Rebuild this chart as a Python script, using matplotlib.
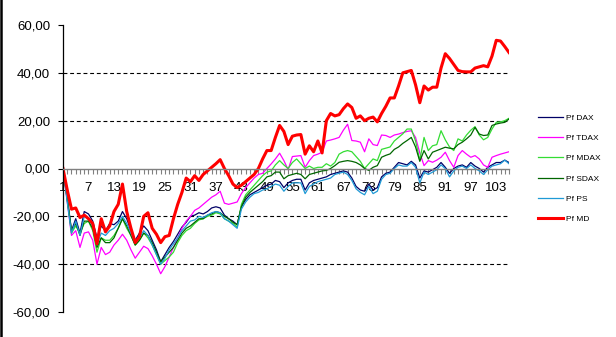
import matplotlib
matplotlib.use("Agg")
import matplotlib.pyplot as plt
from matplotlib.lines import Line2D
from matplotlib.ticker import FixedLocator, FuncFormatter, MultipleLocator

plt.rcParams['font.family'] = ['Liberation Sans', 'DejaVu Sans']

# category index 1..106
periods = list(range(1, 107))

pf_dax = [0, -12, -26, -21, -27, -18, -19, -22, -29, -24,
          -26, -23, -23.5, -22, -18, -21, -26, -30, -27, -24,
          -26, -30, -34, -39, -36, -33, -30.5, -27.5, -24.5, -22.5,
          -20, -19.5, -18.5, -19, -18, -16.5, -16, -16.5, -19.5, -21,
          -22, -23.5, -16, -13, -11, -10, -9, -8, -7, -6.5,
          -5, -5.5, -8, -6, -5, -4.5, -4.5, -9, -6, -5,
          -4.5, -4, -3.5, -2.5, -2, -1.5, -1, -1.5, -4, -7.5,
          -9, -9.5, -6.5, -9, -8, -3.5, -2, -1.5, 0.5, 2.5,
          2, 1.5, 3, 1.5, -4, -1, -1.5, -0.5, 0.5, 2.5,
          0.5, -2, 0, 1, 1.5, 0.5, 2.5, 1, 0, -1.5,
          0.5, 1.5, 2.5, 2.5, 3.5, 2.5]

pf_tdax = [0, -14, -28, -26, -33, -27, -26.5, -30, -40, -33,
           -36, -35, -32, -30, -27.5, -30, -34, -37.5, -35, -32.5,
           -33.5, -36.5, -40, -44, -41, -37, -33, -29, -25, -22,
           -20, -17.5, -16.5, -15, -13.5, -12, -11, -9.5, -14.5, -15,
           -14.5, -14, -10.5, -8, -6, -4, -2.5, -2, 0, 1.9,
           4, 6.4, 3.3, -0.5, 5, 5.2, 5.4, 0.5, 3.3, 5.4,
           6, 6.8, 11.5, 11.9, 12.4, 13, 16, 18.5, 11.7, 11.5,
           11, 7, 12.4, 10, 9.6, 14, 13.8, 13, 14, 14.4,
           15, 15.5, 15.8, 13, 6.5, 1.2, 3.3, 2.6, 3.5, 4.7,
           6.8, 3.3, 0.5, 5.4, 7.5, 6, 4.7, 5.4, 4, 1.5,
           0.5, 4.7, 5.4, 6, 6.5, 7]

pf_mdax = [0, -13, -27, -24, -27, -23, -22, -26, -35, -29,
           -30, -30, -28, -25, -21, -25, -28, -32, -30, -27,
           -29, -32, -36, -40, -38.5, -37, -35, -31, -28, -26,
           -25, -23, -21.5, -21, -20, -19.5, -18.5, -19, -21, -22,
           -23, -24.5, -15, -11, -9, -7, -5, -3, -1.5, -1,
           1.5, 3.3, 1.5, 0, 2.5, 4, 2, 0, 1, 0,
           0.5, 0.5, 2, 1, 2.5, 6, 7, 7.5, 7, 5,
           3, 0, 2, 4, 3.3, 8, 8.5, 9, 11.5, 13,
           14.5, 16.5, 16.5, 11.5, 3.5, 13, 7.5, 9.5, 10, 15.8,
           12, 9, 7.5, 12.4, 11.5, 14, 16, 17.5, 14, 12,
           13, 16.5, 19.3, 19.5, 20, 21]

pf_sdax = [0, -13, -26, -23, -28, -22, -22, -25, -33, -29,
           -31, -31, -29, -25, -21, -24, -28, -32, -30, -27,
           -28, -31, -35, -39, -37, -35, -33, -30, -27, -25,
           -24, -22.5, -21, -21, -19.5, -19, -18, -18.5, -20, -21,
           -22.5, -23.5, -16, -12, -10, -8.5, -7, -5.5, -3.5, -3,
           -1.5, -1.5, -4.3, -3, -2.5, -2, -2.5, -4.3, -2.5, -2,
           -1.5, -1, -0.8, 0, 1.2, 2.6, 3, 3.3, 3, 2.5,
           1.5, 0, -0.8, 0.5, 1.2, 4.7, 5.5, 6.1, 8, 9,
           10.5, 11.7, 13, 9, 3, 7.5, 4, 6.8, 7.5, 8.2,
           8.9, 8.5, 8.2, 10, 11, 12.4, 14, 17.2, 14.4, 13.8,
           14, 18, 18.6, 19, 19.3, 20.7]

pf_ps = [0, -14, -27, -22, -28, -20, -21, -24, -32, -27,
         -28, -26, -25, -23, -20, -23, -27, -31, -29, -26,
         -28, -32, -36, -40, -37.5, -34, -31.5, -29, -26, -24,
         -22, -21.5, -20, -20.5, -19.5, -18.5, -18, -18.5, -21, -22,
         -23.5, -25, -17, -14, -12, -10.5, -10, -9, -8.5, -7.5,
         -6.5, -7, -9.5, -7.5, -6, -6, -6, -10.5, -7.5, -6.5,
         -5.5, -5, -4.5, -4, -2.5, -2, -1.5, -2.5, -5, -8.5,
         -10, -11, -7.5, -10.5, -9.5, -4.5, -2.5, -2, 0, 1.5,
         1, 1, 2.5, 0.5, -6, -1.5, -2.5, -1.5, -0.5, 1.5,
         0, -3.5, -1, 0.5, 1, 0, 1.5, 0, -1, -2.5,
         -0.5, 1, 1.5, 2, 3.5, 2]

pf_md = [0, -9, -17, -16.5, -20.5, -19.5, -21, -23, -31.5, -21,
         -26.5, -24, -18, -15, -6.5, -18, -25, -31, -28.5, -20,
         -18.5, -25, -27.5, -31, -28.5, -28, -21, -15, -10, -4,
         -5.5, -3, -5, -2.5, -1, 0.5, 2, 3.7, 0, -3,
         -6.5, -8, -7, -5.5, -4, -2.5, 0, 4, 7.5, 7.5,
         13, 18, 15.5, 10, 13.5, 14, 14.2, 6, 9.5, 7,
         11.5, 6.5, 20, 23, 22, 22.5, 25, 27, 25.5, 21,
         22, 20, 21, 21.5, 19.5, 23, 26, 29.5, 29.5, 34.5,
         40, 40.5, 41, 35, 27.5, 34.5, 32.8, 34, 34, 42,
         48, 46, 43.5, 41, 40.5, 40.4, 40.4, 42, 42.5, 43,
         42.5, 47, 53.6, 53.3, 51, 48.5]

series = [
    ("Pf DAX", pf_dax, "#000066", 0.9),
    ("Pf TDAX", pf_tdax, "#ff00ff", 0.9),
    ("Pf MDAX", pf_mdax, "#33dd33", 0.9),
    ("Pf SDAX", pf_sdax, "#006600", 0.9),
    ("Pf PS", pf_ps, "#1f9ad6", 0.9),
    ("Pf MD", pf_md, "#ff0000", 2.2),
]

fig = plt.figure(figsize=(6.16, 3.37), dpi=100)
ax = fig.add_axes([63 / 616, 1 - 312 / 337, (509 - 63) / 616, (312 - 25) / 337])

for label, values, color, lw in series:
    ax.plot(periods, values, color=color, lw=lw, label=label, solid_joinstyle="round")

for g in (-40, -20, 20, 40):
    ax.axhline(g, color="black", lw=0.8, dashes=(3.5, 2.5), zorder=1)

ax.set_xlim(1, 106)
ax.set_ylim(-60, 60)

for s in ("top", "right"):
    ax.spines[s].set_visible(False)
ax.spines["left"].set_color("black")
ax.spines["left"].set_linewidth(0.9)
ax.spines["bottom"].set_position(("data", 0))
ax.spines["bottom"].set_color("#808080")
ax.spines["bottom"].set_linewidth(1.0)

ax.yaxis.set_major_locator(MultipleLocator(20))
ax.yaxis.set_major_formatter(FuncFormatter(lambda v, p: f"{v:.2f}".replace(".", ",")))
ax.tick_params(axis="y", direction="out", length=3.3, width=0.8, pad=6,
               labelsize=9.5, color="black")

ax.xaxis.set_major_locator(FixedLocator(periods[::6]))
ax.xaxis.set_minor_locator(MultipleLocator(1))
ax.tick_params(axis="x", which="both", direction="out", length=3.6, width=0.8,
               color="#808080", pad=6, labelsize=9.5)

ax.legend(loc="center left", bbox_to_anchor=(535 / 616, 1 - 168.5 / 337),
          bbox_transform=fig.transFigure, frameon=False, fontsize=6,
          handlelength=3.0, handletextpad=0.3, labelspacing=1.5,
          borderaxespad=0)

fig.add_artist(Line2D([0.002, 0.002], [0, 1], color="black", lw=1.8,
                      transform=fig.transFigure))

fig.savefig("out.png", dpi=100)
